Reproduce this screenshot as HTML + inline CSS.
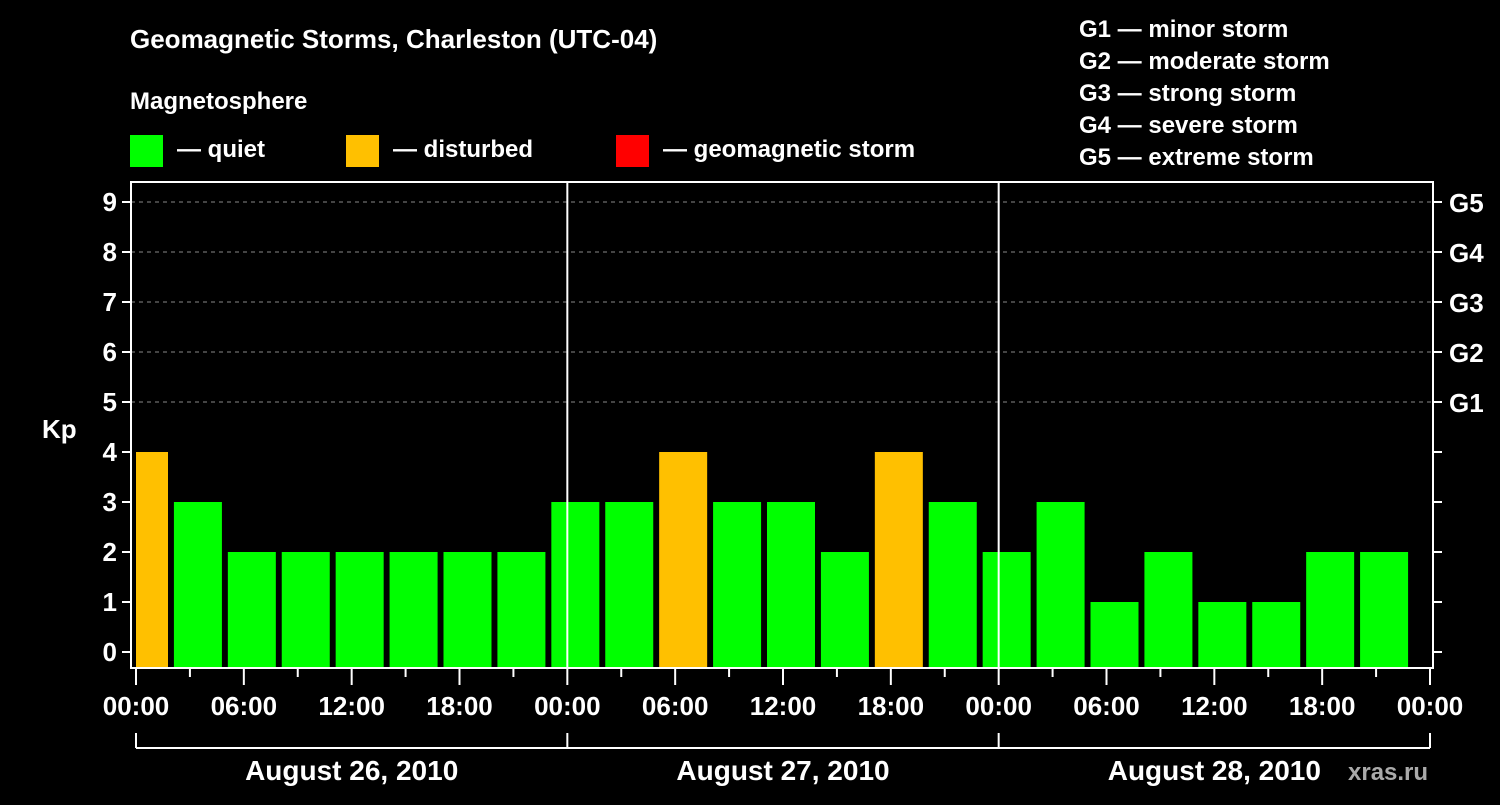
<!DOCTYPE html>
<html><head><meta charset="utf-8"><style>
body{margin:0;background:#000;width:1500px;height:800px;overflow:hidden}
svg text{font-family:"Liberation Sans",Arial,sans-serif;font-weight:bold;fill:#fff}
</style></head><body>
<svg id="c" width="1500" height="800" xmlns="http://www.w3.org/2000/svg">
<text x="130" y="48" font-size="26">Geomagnetic Storms, Charleston (UTC-04)</text>
<text x="130" y="109" font-size="24">Magnetosphere</text>
<g><rect x="130" y="135" width="33" height="32" fill="#00ff00"/><text x="177" y="157" font-size="24">— quiet</text></g>
<g><rect x="346" y="135" width="33" height="32" fill="#ffc000"/><text x="393" y="157" font-size="24">— disturbed</text></g>
<g><rect x="616" y="135" width="33" height="32" fill="#ff0000"/><text x="663" y="157" font-size="24">— geomagnetic storm</text></g>
<g font-size="24">
<text x="1079" y="37">G1 — minor storm</text><text x="1079" y="69">G2 — moderate storm</text><text x="1079" y="101">G3 — strong storm</text><text x="1079" y="133">G4 — severe storm</text><text x="1079" y="165">G5 — extreme storm</text></g>
<text x="42" y="438" font-size="26">Kp</text>
<text x="1348" y="780" font-size="24" fill="#aaa" style="fill:#aaa">xras.ru</text>
<g id="plot"></g>
</svg>
<script>
const kpValues=[4,3,2,2,2,2,2,2,3,3,4,3,3,2,4,3,2,3,1,2,1,1,2,2];
const kpTicks=[0,1,2,3,4,5,6,7,8,9];
const gLabels=["G1","G2","G3","G4","G5"];
const hourLabels=["00:00","06:00","12:00","18:00","00:00","06:00","12:00","18:00","00:00","06:00","12:00","18:00","00:00"];
const dayLabels=["August 26, 2010","August 27, 2010","August 28, 2010"];
const X0=136,X1=1430,L=131,R=1433,T=182,B=668;
const x=h=>X0+(X1-X0)*h/72;
const y=v=>652-50*v;
const g=document.getElementById('plot');
const NS="http://www.w3.org/2000/svg";
function mk(tag,a){const e=document.createElementNS(NS,tag);for(const k in a)e.setAttribute(k,a[k]);g.appendChild(e);return e;}
kpTicks.forEach(v=>{
 if(v>=5){const l=mk('line',{x1:L,x2:R,y1:y(v),y2:y(v),stroke:'#888','stroke-dasharray':'4,4','stroke-width':1});
 
 }
 const t=mk('line',{x1:L-9,x2:L,y1:y(v),y2:y(v),stroke:'#fff','stroke-width':2});
 
 
 const t2=mk('line',{x1:R,x2:R+9,y1:y(v),y2:y(v),stroke:'#fff','stroke-width':2});
 
 
 const tx=mk('text',{x:L-14,y:y(v)+9,'text-anchor':'end','font-size':26});tx.textContent=v;
 
 
});
gLabels.forEach((s,i)=>{const tx=mk('text',{x:R+16,y:y(5+i)+10,'font-size':26});tx.textContent=s;
 
 });
kpValues.forEach((v,i)=>{
 let l=x(3*i)-16,r=l+48;if(l<X0)l=X0;
 const b=mk('rect',{x:l,y:y(v),width:r-l,height:B-y(v),fill:v>=5?'#ff0000':(v>=4?'#ffc000':'#00ff00')});
 
 
});
[1,2].forEach(d=>{const l=mk('line',{x1:x(24*d),x2:x(24*d),y1:T,y2:B,stroke:'#fff','stroke-width':2});
 
 });
const f=mk('rect',{x:L,y:T,width:R-L,height:B-T,fill:'none',stroke:'#fff','stroke-width':2});


for(let h=0;h<=72;h+=3){const major=h%6==0;
 const t=mk('line',{x1:x(h),x2:x(h),y1:B,y2:B+(major?17:9),stroke:'#fff','stroke-width':2});
 
 }
hourLabels.forEach((s,i)=>{const tx=mk('text',{x:x(6*i),y:715,'text-anchor':'middle','font-size':26});tx.textContent=s;
 
 });
const bl=mk('line',{x1:x(0),x2:x(72),y1:748,y2:748,stroke:'#fff','stroke-width':2});


for(let d=0;d<=3;d++){const t=mk('line',{x1:x(24*d),x2:x(24*d),y1:733,y2:748,stroke:'#fff','stroke-width':2});
 
 }
dayLabels.forEach((s,i)=>{const tx=mk('text',{x:x(24*i+12),y:780,'text-anchor':'middle','font-size':28});tx.textContent=s;
 
 });
</script>
</body></html>
